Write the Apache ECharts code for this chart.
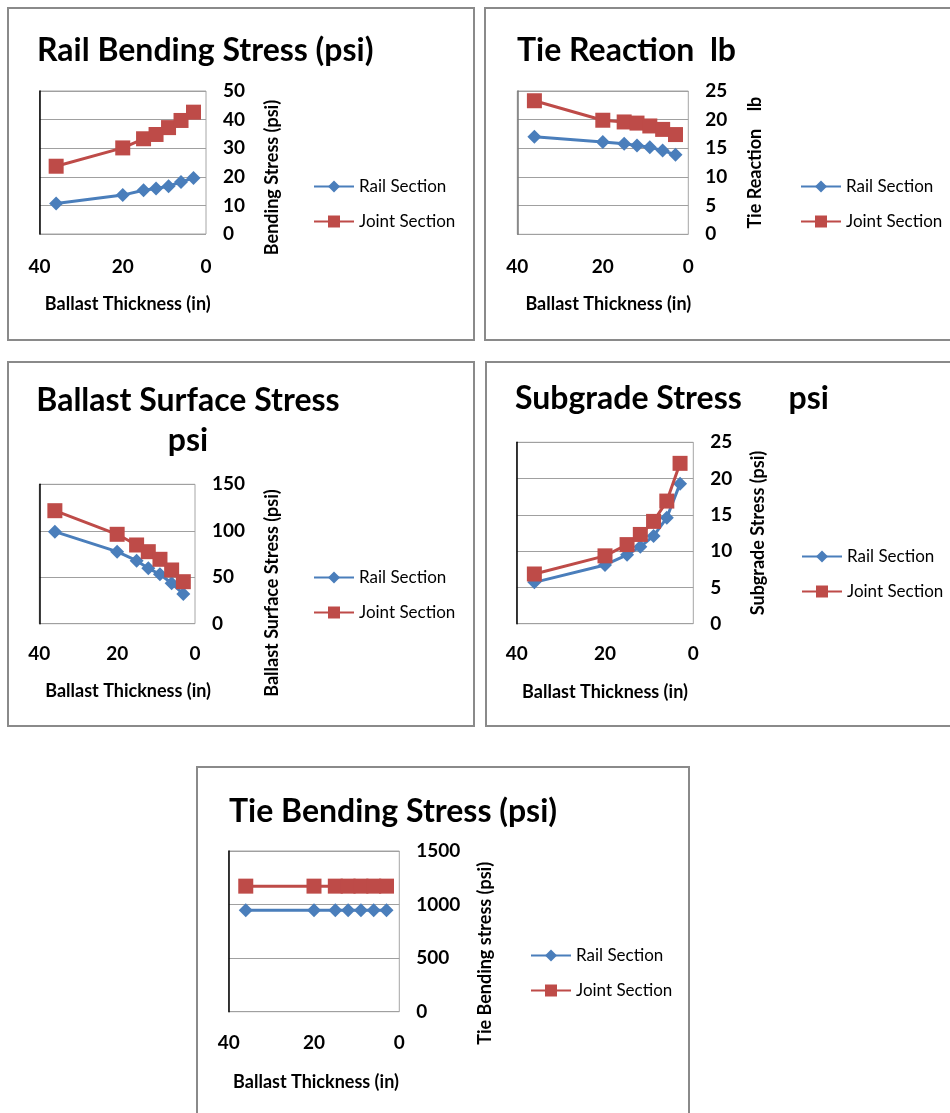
<!DOCTYPE html>
<html>
<head>
<meta charset="utf-8">
<script src="https://cdn.jsdelivr.net/npm/echarts@6/dist/echarts.min.js"></script>
<style>
html,body{margin:0;padding:0;background:#fff;}
#c{width:950px;height:1113px;}
</style>
</head>
<body>
<div id="c"></div>
<script>
// ---- data ----
var thickness = [36, 20, 15, 12, 9, 6, 3];
var xTicks = [40, 20, 0];
var railBending = [10.7, 13.6, 15.3, 15.9, 16.7, 18.2, 19.6];
var jointBending = [23.7, 30.1, 33.3, 34.8, 37.2, 39.7, 42.6];
var railTieReaction = [17.0, 16.1, 15.8, 15.5, 15.2, 14.6, 13.9];
var jointTieReaction = [23.3, 19.9, 19.6, 19.4, 18.9, 18.3, 17.4];
var railBallast = [99, 77.5, 67.8, 59.6, 53.2, 43.5, 32];
var jointBallast = [121.6, 96.2, 84.7, 77.5, 69.3, 57.8, 45.2];
var railSubgrade = [5.7, 8.1, 9.5, 10.6, 12.1, 14.6, 19.3];
var jointSubgrade = [6.85, 9.35, 10.9, 12.3, 14.1, 16.9, 22.1];
var railTieBending = [947, 947, 947, 947, 947, 947, 947];
var jointTieBending = [1172, 1172, 1172, 1172, 1172, 1172, 1172];
var seriesNames = ['Rail Section', 'Joint Section'];

var FONT = 'Lato';
var BLUE = '#4A7EBB';
var RED = '#BE4B48';

var panels = [
  {title: 'Rail Bending Stress (psi)', tLeft: 37, tTop: 33, tAlign: 'left',
   grid: {left: 39.5, top: 91, width: 166.5, height: 143}, leftLine: '#000',
   yMax: 50, yInt: 10, yName: 'Bending Stress (psi)', yGap: 57, yPad: [0, 30, 0, 0],
   xPad: [0, 0, 0, 10], xGap: 61, xMargin: 23,
   legend: {left: 313, top: 178},
   rail: railBending, joint: jointBending},
  {title: 'Tie Reaction  lb', tLeft: 517, tTop: 33, tAlign: 'left',
   grid: {left: 517.3, top: 91, width: 171, height: 143.3}, leftLine: '#7a7a7a',
   yMax: 25, yInt: 5, yName: 'Tie Reaction    lb', yGap: 58, yPad: [0, 0, 0, 0],
   xPad: [0, 0, 0, 11], xGap: 61, xMargin: 23,
   legend: {left: 800, top: 178},
   rail: railTieReaction, joint: jointTieReaction},
  {title: 'Ballast Surface Stress\npsi', tLeft: 188, tTop: 381, tAlign: 'center', tLineHeight: 40,
   grid: {left: 39.3, top: 484.3, width: 155.7, height: 139.4}, leftLine: '#000',
   yMax: 150, yInt: 50, yName: 'Ballast Surface Stress (psi)', yGap: 68, yPad: [0, 78, 0, 0],
   xPad: [0, 0, 0, 22], xGap: 58, xMargin: 21,
   legend: {left: 313, top: 569},
   rail: railBallast, joint: jointBallast},
  {title: 'Subgrade Stress      psi', tLeft: 515, tTop: 381, tAlign: 'left',
   grid: {left: 516.7, top: 442.3, width: 176.6, height: 181.4}, leftLine: '#000',
   yMax: 25, yInt: 5, yName: 'Subgrade Stress (psi)', yGap: 56, yPad: [0, 0, 0, 0],
   xPad: [0, 0, 0, 0], xGap: 59, xMargin: 21,
   legend: {left: 801, top: 548},
   rail: railSubgrade, joint: jointSubgrade},
  {title: 'Tie Bending Stress (psi)', tLeft: 229, tTop: 794, tAlign: 'left',
   grid: {left: 228.7, top: 851, width: 170.6, height: 160.7}, leftLine: '#000',
   yMax: 1500, yInt: 500, yName: 'Tie Bending stress (psi)', yGap: 77, yPad: [0, 44, 0, 0],
   xPad: [0, 0, 0, 4], xGap: 61, xMargin: 22,
   legend: {left: 530, top: 947},
   rail: railTieBending, joint: jointTieBending}
];

var frames = [
  [8, 8, 466, 332],
  [485, 8, 470, 332],
  [8, 362, 466, 364],
  [486, 362, 470, 364],
  [197, 767, 492, 360]
];

function pairs(xs, ys) {
  return xs.map(function (x, i) { return [x, ys[i]]; });
}
function plain(v) { return String(v); }

var option = {
  animation: false,
  backgroundColor: '#fff',
  title: [], grid: [], xAxis: [], yAxis: [], series: [], legend: [],
  graphic: frames.map(function (f) {
    return {type: 'rect', shape: {x: f[0], y: f[1], width: f[2], height: f[3]},
      style: {fill: 'none', stroke: '#8a8a8a', lineWidth: 2}, silent: true, z: 0};
  })
};

panels.forEach(function (p, i) {
  option.title.push({
    text: p.title, left: p.tLeft, top: p.tTop, padding: 0, textAlign: p.tAlign,
    textStyle: {fontFamily: FONT, fontWeight: 'bold', fontSize: 32, color: '#000',
      lineHeight: p.tLineHeight || 36}
  });
  option.grid.push({left: p.grid.left, top: p.grid.top, width: p.grid.width, height: p.grid.height,
    show: true, borderColor: '#a6a6a6', borderWidth: 1, backgroundColor: 'transparent'});
  option.xAxis.push({
    type: 'value', gridIndex: i, min: xTicks[2], max: xTicks[0], interval: xTicks[0] - xTicks[1],
    inverse: true, position: 'bottom',
    axisLine: {show: false}, axisTick: {show: false}, splitLine: {show: false},
    axisLabel: {fontFamily: FONT, fontWeight: 'bold', fontSize: 19, color: '#000', margin: p.xMargin, formatter: plain},
    name: 'Ballast Thickness (in)', nameLocation: 'middle', nameGap: p.xGap,
    nameTextStyle: {fontFamily: FONT, fontWeight: 'bold', fontSize: 18, color: '#000', padding: p.xPad}
  });
  // left axis: only the axis line at the left edge of the plot
  option.yAxis.push({
    type: 'value', gridIndex: i, min: 0, max: p.yMax, interval: p.yInt, position: 'left',
    axisLine: {show: true, onZero: false, lineStyle: {color: p.leftLine, width: 1.5}},
    axisTick: {show: false}, axisLabel: {show: false}, splitLine: {show: false}
  });
  // right axis: labels, gridlines, name
  option.yAxis.push({
    type: 'value', gridIndex: i, min: 0, max: p.yMax, interval: p.yInt, position: 'right',
    axisLine: {show: false, onZero: false}, axisTick: {show: false},
    splitLine: {show: true, lineStyle: {color: '#a0a0a0', width: 1}},
    axisLabel: {fontFamily: FONT, fontWeight: 'bold', fontSize: 19, color: '#000', margin: 17, formatter: plain},
    name: p.yName, nameLocation: 'middle', nameGap: p.yGap, nameRotate: 90,
    nameTextStyle: {fontFamily: FONT, fontWeight: 'bold', fontSize: 18, color: '#000', padding: p.yPad}
  });
  option.series.push({
    type: 'line', name: seriesNames[0], xAxisIndex: i, yAxisIndex: 2 * i + 1,
    data: pairs(thickness, p.rail), symbol: 'diamond', symbolSize: 14,
    lineStyle: {color: BLUE, width: 3}, itemStyle: {color: BLUE}, z: 3
  });
  option.series.push({
    type: 'line', name: seriesNames[1], xAxisIndex: i, yAxisIndex: 2 * i + 1,
    data: pairs(thickness, p.joint), symbol: 'rect', symbolSize: 15,
    lineStyle: {color: RED, width: 3}, itemStyle: {color: RED}, z: 4
  });
  option.legend.push({
    data: seriesNames, orient: 'vertical', left: p.legend.left, top: p.legend.top,
    padding: 0, itemWidth: 40, itemHeight: 15, itemGap: 18, selectedMode: false,
    textStyle: {fontFamily: FONT, fontSize: 17, color: '#000'}
  });
});

var chart = echarts.init(document.getElementById('c'), null, {renderer: 'canvas'});
chart.setOption(option);
</script>
</body>
</html>
